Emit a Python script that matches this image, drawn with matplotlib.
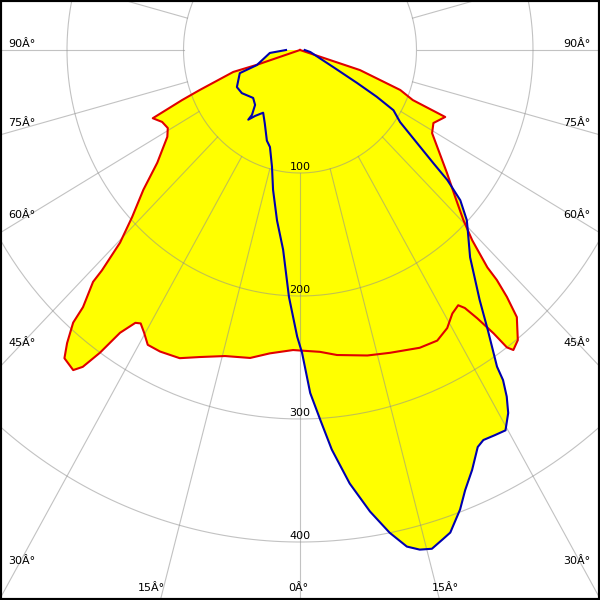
import numpy as np
import matplotlib
matplotlib.use("Agg")
import matplotlib.pyplot as plt

# C0-C180 plane (red), path order, gamma in degrees, intensity in cd
red_gamma = [-90, -72, -72.7, -69.3, -68.1, -66.3, -63.7, -60.8, -58.2, -53.2,
             -49.8, -46.7, -44.6, -43.5, -43.3, -41.7, -41.3, -40.0, -38.9, -36.8,
             -35.9, -34.9, -33.9, -32.5, -31.6, -30.2, -28.6, -26.1, -22.4, -19.0,
             -14.5, -9.7, -6.0, -1.4, 4.0, 7.3, 13.1, 17.4, 23.0, 26.5,
             29.2, 31.4, 33.2, 34.0, 34.9, 35.8, 36.3, 36.9, 38.4, 40.6,
             41.5, 42.1, 42.3, 43.7, 45.4, 48.1, 51.6, 55.6, 59.2, 62.6,
             66.4, 67.2, 69.3, 72.4, 90]
red_cd = [0, 39, 60, 92, 109, 138, 132, 130, 134, 153,
          176, 198, 220, 247, 259, 280, 295, 311, 322, 325,
          318, 300, 277, 263, 261, 266, 273, 273, 271, 264,
          257, 254, 248, 244, 246, 250, 255, 258, 263, 264,
          259, 251, 248, 253, 266, 284, 300, 305, 301, 286,
          268, 252, 239, 214, 197, 179, 161, 144, 132, 129,
          136, 105, 92, 54, 0]

# C90-C270 plane (blue)
blue_gamma = [-90, -84.7, -71.7, -70.0, -60.9, -54.9, -45.9, -40.8, -38.0, -38.1,
              -35.7, -31.8, -26.8, -21.1, -18.1, -14.2, -11.5, -8.1, -5.1, -2.7,
              -0.6, 0.4, 1.8, 3.3, 4.8, 6.9, 9.1, 11.1, 12.8, 14.2,
              15.6, 17.2, 18.2, 20.2, 21.6, 23.4, 25.3, 26.4, 28.1, 29.7,
              31.2, 32.2, 33.0, 33.3, 35.3, 37.2, 38.8, 40.9, 44.6, 46.0,
              48.4, 50.1, 51.2, 53.0, 55.7, 58.6, 60.0, 61.3, 64.0, 79.5,
              90]
blue_cd = [12, 26, 39, 55, 62, 61, 56, 59, 67, 72,
           66, 60, 67, 79, 83, 98, 116, 140, 163, 201,
           233, 246, 279, 301, 326, 355, 380, 400, 414, 419,
           421, 416, 413, 398, 385, 372, 357, 354, 355, 356,
           345, 333, 320, 308, 279, 255, 240, 223, 205, 199,
           184, 165, 147, 126, 104, 94, 76, 56, 32, 9,
           4]

ring_values = [100, 200, 300, 400]
ring_labels = ["100", "200", "300", "400"]
spoke_angles = np.arange(0, 360, 15)

# angle labels: (text, x, y) in axes fraction
angle_labels = [
    ("90Â°", 0.037, 0.927), ("75Â°", 0.037, 0.795), ("60Â°", 0.037, 0.642),
    ("45Â°", 0.037, 0.428), ("30Â°", 0.037, 0.065),
    ("90Â°", 0.962, 0.927), ("75Â°", 0.962, 0.795), ("60Â°", 0.962, 0.642),
    ("45Â°", 0.962, 0.428), ("30Â°", 0.962, 0.065),
    ("15Â°", 0.252, 0.020), ("0Â°", 0.498, 0.020), ("15Â°", 0.743, 0.020),
]


def to_xy(gamma, cd):
    g = np.radians(np.asarray(gamma, dtype=float))
    r = np.asarray(cd, dtype=float)
    return r * np.sin(g), -r * np.cos(g)


fig = plt.figure(figsize=(6, 6), dpi=100)
ax = fig.add_axes([0, 0, 1, 1])
ax.set_xlim(-300 / 1.165, 300 / 1.165)
ax.set_ylim(-550 / 1.23, 50 / 1.23)
ax.set_xticks([])
ax.set_yticks([])
for s in ax.spines.values():
    s.set_linewidth(3)
    s.set_color("black")

rx, ry = to_xy(red_gamma, red_cd)
bx, by = to_xy(blue_gamma, blue_cd)
ax.fill(rx, ry, color="#ffff00", lw=0, zorder=1)
ax.fill(bx, by, color="#ffff00", lw=0, zorder=1)

# grid
t = np.linspace(0, 2 * np.pi, 400)
for r in ring_values:
    ax.plot(r * np.sin(t), r * np.cos(t), color="#909090", alpha=0.55, lw=0.8, zorder=2)
for a in spoke_angles:
    gx, gy = to_xy([a, a], [100, 700])
    ax.plot(gx, gy, color="#909090", alpha=0.55, lw=0.8, zorder=2)

ax.plot(rx, ry, color="#e00000", lw=1.5, zorder=3)
ax.plot(bx, by, color="#0000b0", lw=1.5, zorder=4)

for r, lab in zip(ring_values, ring_labels):
    ax.text(0, -r + 1, lab, ha="center", va="bottom", fontsize=8, zorder=5)

for lab, x, y in angle_labels:
    ax.text(x, y, lab, transform=ax.transAxes, ha="center", va="center", fontsize=8, zorder=5)

fig.savefig("out.png", dpi=100)
